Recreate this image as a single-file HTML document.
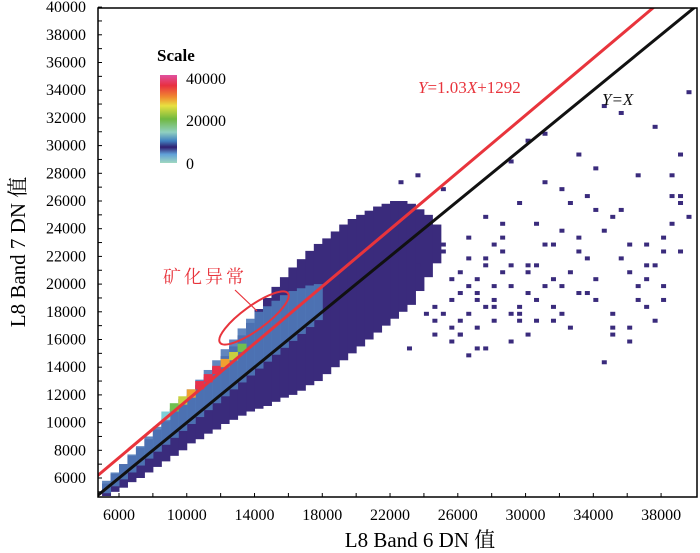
<!DOCTYPE html>
<html><head><meta charset="utf-8"><style>
body{margin:0;background:#fff;width:700px;height:553px;overflow:hidden}
svg{display:block}
text{font-family:"Liberation Serif","Noto Serif CJK SC",serif}
</style></head><body>
<svg id="chart" width="700" height="553" xmlns="http://www.w3.org/2000/svg"></svg>
<script>
const xTicks=[6000,8000,10000,12000,14000,16000,18000,20000,22000,24000,26000,28000,30000,32000,34000,36000,38000];
const xTickLabels=["6000","10000","14000","18000","22000","26000","30000","34000","38000"];
const yTicks=[6000,8000,10000,12000,14000,16000,18000,20000,22000,24000,26000,28000,30000,32000,34000,36000,38000,40000];
const hullX=[5000,5500,6000,6500,7000,7500,8000,8500,9000,9500,10000,10500,11000,11500,12000,12500,13000,13500,14000,14500,15000,15500,16000,16500,17000,17500,18000,18500,19000,19500,20000,20500,21000,21500,22000,22500,23000,23500,24000,24500];
const hullLo=[4700,5000,5300,5700,6000,6400,6800,7200,7600,8000,8500,8800,9200,9500,9900,10200,10500,10800,11000,11200,11500,11800,12000,12300,12700,13000,13500,14000,14500,15000,15500,16000,16500,17000,17500,18000,18500,19500,20500,21500];
const hullHi=[5600,6300,7000,7600,8200,8800,9500,10100,10800,11400,12000,12700,13300,14000,14800,15500,16300,17200,18200,19000,19800,20500,21200,21800,22400,22900,23300,23800,24300,24700,25000,25300,25600,25800,26000,26000,25800,25400,25000,24300];
const glowX=[5000,5500,6000,6500,7000,7500,8000,8500,9000,9500,10000,10500,11000,11500,12000,12500,13000,13500,14000,14500,15000,15500,16000,16500,17000,17500];
const glowLo=[4900,5400,5900,6400,6900,7400,7900,8400,8900,9400,9900,10400,10900,11400,11900,12400,12900,13400,13900,14400,14900,15400,15900,16400,16900,17400];
const glowHi=[5800,6400,7000,7700,8300,9000,9700,10300,11000,11700,12400,13100,13800,14500,15300,16000,16800,17500,18000,18400,18800,19200,19500,19700,19900,20000];
const coreX=[8500,9000,9500,10000,10500,11000,11500,12000,12500,13000];
const coreY=[10200,10800,11300,11800,12400,12900,13500,14000,14500,15100];
const coreHeat=[0.45,0.6,0.7,0.85,0.95,1.0,0.95,0.85,0.7,0.55];
const outX=[22500,23500,24000,25000,25500,26000,26500,27000,27500,28000,28500,29000,29500,30000,30500,31000,31500,32000,32500,33000,33500,34000,34500,35000,35500,36000,36500,37000,37500,38000,38500,39000,39500,24500,26500,28500,30500,32500,34500,36500,38500,27000,29000,31000,33000,35000,37000,39000,23000,25000,27500,29500,31500,33500,35500,37500,39500,26000,30000,34000,38000,36000,32000,28000,24000,25500,26500,27500,28500,29500,30500,31500,25000,26000,27000,28000,29000,30000,24500,25500,26500,27500,23500,24500,25000,26000,27000,28000,29000,30000,31000,32000,33000,34000,35000,36000,37000,38000,39000,25500,26500,27500,28500,29500,30500,31500,32500,33500,34500,35500,36500,37500,38500,26000,28000,30000,32000,34000,36000,38000,27000,29000,31000,33000,35000,37000,39000];
const outY=[27500,28000,18000,27000,19000,21000,23500,17000,25000,20000,22500,16000,26000,19500,21500,31000,18500,24000,17000,29500,22000,20500,33000,18000,25500,21000,28000,23000,31500,19000,26500,22500,34000,16500,15000,24500,17500,26000,14500,20000,24500,19500,29000,27500,23500,16500,21500,29500,15500,23000,21500,18500,23000,26500,32500,17500,25000,19500,30500,28500,22500,16000,27000,17500,24000,20500,18000,22000,21000,17500,19000,20500,22500,16500,19000,23000,20000,21500,18500,17000,20000,18500,21500,17500,18000,17500,20500,19000,21500,16500,20000,18000,22500,19000,17000,23000,18500,20000,26000,16000,22000,15500,23500,18000,24500,17500,21000,19500,24000,22000,19000,21500,28000,16500,18500,21000,20000,25500,17000,23500,15500,18000,23000,19500,25000,20500,26500,24000];
const NS='http://www.w3.org/2000/svg';
const svg=document.getElementById('chart');
const X0=98,X1=697,Y0=8,Y1=497;
const FF='Liberation Serif, Noto Serif CJK SC, serif';
function sx(v){return 119+(v-6000)*0.01694;}
function sy(v){return 478-(v-6000)*0.01385;}
function mk(tag,at,parent){const e=document.createElementNS(NS,tag);for(const k in at)e.setAttribute(k,at[k]);(parent||svg).appendChild(e);return e;}
const clip=mk('clipPath',{id:'pc'});mk('rect',{x:X0,y:Y0,width:X1-X0,height:Y1-Y0},clip);
const g=mk('g',{'clip-path':'url(#pc)'});


for(let i=0;i<hullX.length;i++){
  const r=mk('rect',{x:sx(hullX[i]),y:sy(hullHi[i]),width:sx(hullX[i]+500)-sx(hullX[i])+0.5,height:sy(hullLo[i])-sy(hullHi[i]),fill:'#3a2b7c'},g);
  
  
}
for(let i=0;i<glowX.length;i++){
  const r=mk('rect',{x:sx(glowX[i]),y:sy(glowHi[i]),width:sx(glowX[i]+500)-sx(glowX[i])+0.5,height:sy(glowLo[i])-sy(glowHi[i]),fill:'#4f79b8',opacity:0.9},g);
  
  
}
function heatCol(h){if(h>0.9)return'#e8304a';if(h>0.8)return'#f0a030';if(h>0.65)return'#c8d040';if(h>0.5)return'#70c050';return'#7fd0d8';}
for(let i=0;i<coreX.length;i++){
  const r=mk('rect',{x:sx(coreX[i]),y:sy(coreY[i]+600),width:sx(coreX[i]+500)-sx(coreX[i])+0.5,height:sy(coreY[i])-sy(coreY[i]+600),fill:heatCol(coreHeat[i])},g);
  
  
}
for(let i=0;i<outX.length;i++){
  const r=mk('rect',{x:sx(outX[i]),y:sy(outY[i]),width:5,height:4,fill:'#3a2b7c'},g);
  
  
}
const bl=mk('line',{x1:sx(4700),y1:sy(4700),x2:sx(41000),y2:sy(41000),stroke:'#111',"stroke-width":3},g);


const rl=mk('line',{x1:sx(4700),y1:sy(1.03*4700+1292),x2:sx(40000),y2:sy(1.03*40000+1292),stroke:'#e8343c',"stroke-width":3},g);


const fr=mk('rect',{x:X0,y:Y0,width:X1-X0,height:Y1-Y0,fill:'none',stroke:'#000','stroke-width':1.5});


for(let v=5000;v<=40000;v+=1000){const t=mk('line',{x1:X0,x2:X0+4,y1:sy(v),y2:sy(v),stroke:'#000'});}
yTicks.forEach(v=>{const t=mk('text',{x:86,y:sy(v)+5,'text-anchor':'end','font-size':16,'font-family':FF});t.textContent=String(v);});
xTicks.forEach(v=>{const t=mk('line',{x1:sx(v),x2:sx(v),y1:Y1,y2:Y1-4,stroke:'#000'});});
xTickLabels.forEach(s=>{const t=mk('text',{x:sx(+s),y:520,'text-anchor':'middle','font-size':16,'font-family':FF});t.textContent=s;});
</script>
<svg style="position:absolute;left:0;top:0" width="700" height="553" xmlns="http://www.w3.org/2000/svg">
<defs><linearGradient id="cb" x1="0" y1="0" x2="0" y2="1">
<stop offset="0" stop-color="#e050a0"/><stop offset="0.12" stop-color="#e83040"/><stop offset="0.25" stop-color="#f08a30"/><stop offset="0.35" stop-color="#e8e040"/><stop offset="0.5" stop-color="#70b840"/><stop offset="0.65" stop-color="#90d0c0"/><stop offset="0.75" stop-color="#4080c0"/><stop offset="0.82" stop-color="#302070"/><stop offset="0.9" stop-color="#60a0d8"/><stop offset="1" stop-color="#a0d8c0"/></linearGradient></defs>
<text x="157" y="61" font-size="17" font-weight="bold" font-family="Liberation Sans, sans-serif">Scale</text>
<rect x="160" y="75" width="17" height="88" fill="url(#cb)"/>
<text x="186" y="84" font-size="16" font-family="Liberation Serif, serif">40000</text>
<text x="186" y="126" font-size="16" font-family="Liberation Serif, serif">20000</text>
<text x="186" y="169" font-size="16" font-family="Liberation Serif, serif">0</text>
<text x="418" y="93" font-size="17" fill="#e8343c" font-family="Liberation Serif, serif"><tspan font-style="italic">Y</tspan>=1.03<tspan font-style="italic">X</tspan>+1292</text>
<text x="602" y="105" font-size="17" fill="#111" font-style="italic" font-family="Liberation Serif, serif">Y=X</text>
<ellipse cx="254" cy="318" rx="42" ry="12" transform="rotate(-36 254 318)" fill="none" stroke="#e8343c" stroke-width="2"/>
<line x1="235" y1="290" x2="257" y2="311" stroke="#e8343c" stroke-width="1.2"/>
<text x="163" y="283" font-size="18" fill="#e8343c" letter-spacing="3" font-family="Noto Sans CJK SC, sans-serif">矿化异常</text>
<text x="420" y="547" font-size="21" text-anchor="middle" font-family="Liberation Serif, Noto Serif CJK SC, serif">L8 Band 6 DN 值</text>
<text x="0" y="0" font-size="21" text-anchor="middle" transform="translate(25 252) rotate(-90)" font-family="Liberation Serif, Noto Serif CJK SC, serif">L8 Band 7 DN 值</text>
</svg>
</body></html>
